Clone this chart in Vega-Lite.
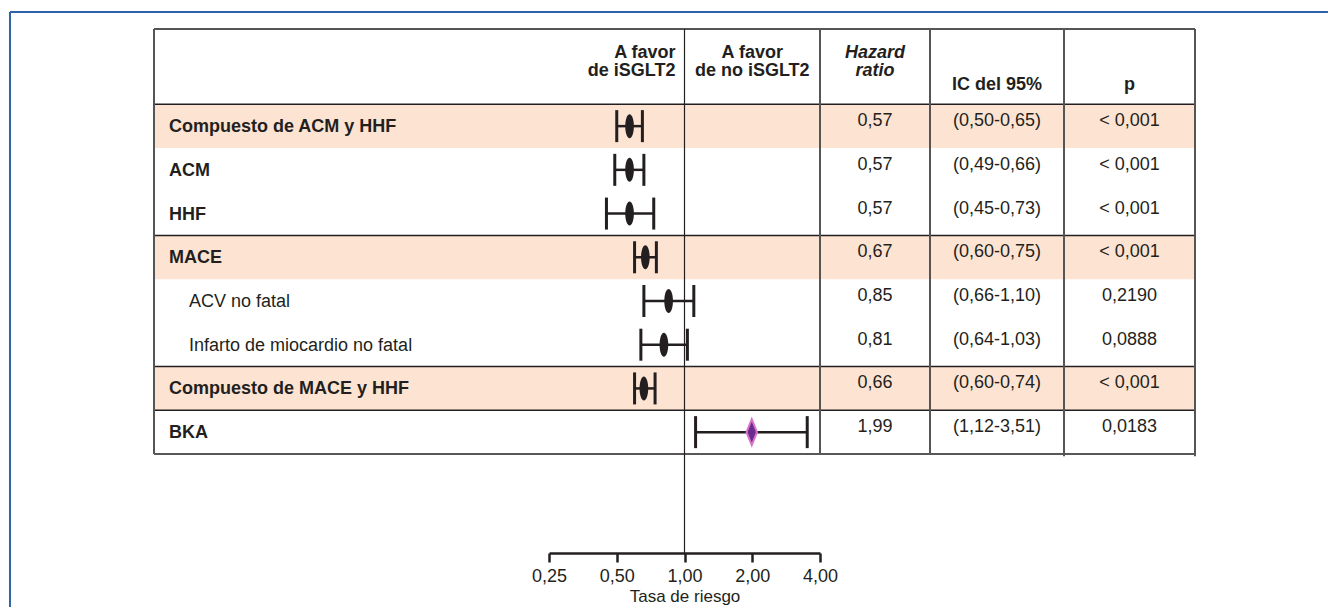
{
  "$schema": "https://vega.github.io/schema/vega-lite/v6.json",
  "padding": {"left": 8, "top": 10, "right": 0, "bottom": 0},
  "background": "white",
  "bounds": "flush",
  "spacing": 0,
  "config": {
    "view": {"stroke": null},
    "font": "Liberation Sans",
    "text": {"font": "Liberation Sans", "color": "#231f20", "fontSize": 18},
    "axis": {"grid": false}
  },
  "datasets": {
    "rows": [
      {"row": 1, "label": "Compuesto de ACM y HHF", "sub": false, "shaded": true, "adverse": false, "hr": 0.57, "lo": 0.50, "hi": 0.65, "hr_txt": "0,57", "ci": "(0,50-0,65)", "p": "< 0,001"},
      {"row": 2, "label": "ACM", "sub": false, "shaded": false, "adverse": false, "hr": 0.57, "lo": 0.49, "hi": 0.66, "hr_txt": "0,57", "ci": "(0,49-0,66)", "p": "< 0,001"},
      {"row": 3, "label": "HHF", "sub": false, "shaded": false, "adverse": false, "hr": 0.57, "lo": 0.45, "hi": 0.73, "hr_txt": "0,57", "ci": "(0,45-0,73)", "p": "< 0,001"},
      {"row": 4, "label": "MACE", "sub": false, "shaded": true, "adverse": false, "hr": 0.67, "lo": 0.60, "hi": 0.75, "hr_txt": "0,67", "ci": "(0,60-0,75)", "p": "< 0,001"},
      {"row": 5, "label": "ACV no fatal", "sub": true, "shaded": false, "adverse": false, "hr": 0.85, "lo": 0.66, "hi": 1.10, "hr_txt": "0,85", "ci": "(0,66-1,10)", "p": "0,2190"},
      {"row": 6, "label": "Infarto de miocardio no fatal", "sub": true, "shaded": false, "adverse": false, "hr": 0.81, "lo": 0.64, "hi": 1.03, "hr_txt": "0,81", "ci": "(0,64-1,03)", "p": "0,0888"},
      {"row": 7, "label": "Compuesto de MACE y HHF", "sub": false, "shaded": true, "adverse": false, "hr": 0.66, "lo": 0.60, "hi": 0.74, "hr_txt": "0,66", "ci": "(0,60-0,74)", "p": "< 0,001"},
      {"row": 8, "label": "BKA", "sub": false, "shaded": false, "adverse": true, "hr": 1.99, "lo": 1.12, "hi": 3.51, "hr_txt": "1,99", "ci": "(1,12-3,51)", "p": "0,0183"}
    ],
    "hlines": [{"y": 0.5}, {"y": 3.5}, {"y": 6.5}, {"y": 7.5}, {"y": 8.5}]
  },
  "hconcat": [
    {
      "width": 395,
      "height": 524,
      "layer": [
        {"data": {"name": "rows"}, "transform": [{"filter": "datum.shaded"}],
         "mark": {"type": "rule", "strokeWidth": 43.72, "color": "#fde4d2"},
         "encoding": {"y": {"field": "row", "type": "quantitative", "scale": {"domain": [-1.222, 10.765], "reverse": true, "nice": false, "zero": false}, "axis": null}}},
        {"data": {"name": "hlines"},
         "mark": {"type": "rule", "strokeWidth": 1.5, "color": "#231f20"},
         "encoding": {"y": {"field": "y", "type": "quantitative", "scale": {"domain": [-1.222, 10.765], "reverse": true, "nice": false, "zero": false}, "axis": null}}},
        {"data": {"values": [{}]},
         "mark": {"type": "rule", "strokeWidth": 2, "color": "#555555"},
         "encoding": {"y": {"datum": -1.222, "type": "quantitative", "scale": {"domain": [-1.222, 10.765], "reverse": true, "nice": false, "zero": false}, "axis": null}}},
        {"data": {"values": [{}]},
         "mark": {"type": "rule", "strokeWidth": 2, "color": "#555555"},
         "encoding": {
           "x": {"datum": 0, "type": "quantitative", "scale": {"domain": [0, 1], "nice": false, "zero": false}, "axis": null},
           "y": {"datum": -1.222, "type": "quantitative", "scale": {"domain": [-1.222, 10.765], "reverse": true, "nice": false, "zero": false}, "axis": null},
           "y2": {"datum": 8.5}}},
        {"data": {"values": [{}]},
         "mark": {"type": "rule", "strokeWidth": 2, "color": "#2f62a8"},
         "encoding": {
           "x": {"datum": -0.3646, "type": "quantitative", "scale": {"domain": [0, 1], "nice": false, "zero": false}, "axis": null},
           "x2": {"datum": 2.972},
           "y": {"datum": -1.611, "type": "quantitative", "scale": {"domain": [-1.222, 10.765], "reverse": true, "nice": false, "zero": false}, "axis": null}}},
        {"data": {"values": [{}]},
         "mark": {"type": "rule", "strokeWidth": 2, "color": "#2f62a8"},
         "encoding": {
           "x": {"datum": -0.3646, "type": "quantitative", "scale": {"domain": [0, 1], "nice": false, "zero": false}, "axis": null},
           "y": {"datum": -1.611, "type": "quantitative", "scale": {"domain": [-1.222, 10.765], "reverse": true, "nice": false, "zero": false}, "axis": null},
           "y2": {"datum": 12.0}}},
        {"data": {"name": "rows"}, "transform": [{"filter": "!datum.sub"}],
         "mark": {"type": "text", "align": "left", "baseline": "middle", "dx": 15, "dy": 1, "fontWeight": "bold", "fontSize": 18},
         "encoding": {
           "x": {"datum": 0, "type": "quantitative", "scale": {"domain": [0, 1], "nice": false, "zero": false}, "axis": null},
           "y": {"field": "row", "type": "quantitative", "scale": {"domain": [-1.222, 10.765], "reverse": true, "nice": false, "zero": false}, "axis": null},
           "text": {"field": "label"}}},
        {"data": {"name": "rows"}, "transform": [{"filter": "datum.sub"}],
         "mark": {"type": "text", "align": "left", "baseline": "middle", "dx": 35, "dy": 1, "fontSize": 18},
         "encoding": {
           "x": {"datum": 0, "type": "quantitative", "scale": {"domain": [0, 1], "nice": false, "zero": false}, "axis": null},
           "y": {"field": "row", "type": "quantitative", "scale": {"domain": [-1.222, 10.765], "reverse": true, "nice": false, "zero": false}, "axis": null},
           "text": {"field": "label"}}}
      ]
    },
    {
      "width": 271,
      "height": 524,
      "layer": [
        {"data": {"name": "rows"}, "transform": [{"filter": "datum.shaded"}],
         "mark": {"type": "rule", "strokeWidth": 43.72, "color": "#fde4d2"},
         "encoding": {"y": {"field": "row", "type": "quantitative", "scale": {"domain": [-1.222, 10.765], "reverse": true, "nice": false, "zero": false}, "axis": null}}},
        {"data": {"name": "hlines"},
         "mark": {"type": "rule", "strokeWidth": 1.5, "color": "#231f20"},
         "encoding": {"y": {"field": "y", "type": "quantitative", "scale": {"domain": [-1.222, 10.765], "reverse": true, "nice": false, "zero": false}, "axis": null}}},
        {"data": {"values": [{}]},
         "mark": {"type": "rule", "strokeWidth": 2, "color": "#555555"},
         "encoding": {"y": {"datum": -1.222, "type": "quantitative", "scale": {"domain": [-1.222, 10.765], "reverse": true, "nice": false, "zero": false}, "axis": null}}},
        {"data": {"name": "rows"},
         "mark": {"type": "rule", "strokeWidth": 2.5, "color": "#231f20"},
         "encoding": {
           "x": {"field": "lo", "type": "quantitative", "scale": {"type": "log", "domain": [0.25, 4], "nice": false},
                 "axis": {"values": [0.25, 0.5, 1, 2, 4], "labelExpr": "replace(format(datum.value, '.2f'), '.', ',')",
                          "title": "Tasa de riesgo", "titleFontWeight": "normal", "titleFontSize": 17, "titleColor": "#231f20", "titlePadding": 3, "titleFont": "Liberation Sans",
                          "labelFont": "Liberation Sans", "labelFontSize": 18, "labelColor": "#231f20", "labelPadding": 5, "labelFlush": false, "labelOverlap": false, "labelBound": false,
                          "domainColor": "#231f20", "domainWidth": 2.5, "tickColor": "#231f20", "tickWidth": 2.5, "tickSize": 9, "grid": false}},
           "x2": {"field": "hi"},
           "y": {"field": "row", "type": "quantitative", "scale": {"domain": [-1.222, 10.765], "reverse": true, "nice": false, "zero": false}, "axis": null}}},
        {"data": {"values": [{}]},
         "mark": {"type": "rule", "strokeWidth": 1.2, "color": "#231f20"},
         "encoding": {
           "x": {"datum": 1, "type": "quantitative", "scale": {"type": "log", "domain": [0.25, 4], "nice": false}},
           "y": {"datum": -1.222, "type": "quantitative", "scale": {"domain": [-1.222, 10.765], "reverse": true, "nice": false, "zero": false}, "axis": null},
           "y2": {"datum": 10.765}}},
        {"data": {"name": "rows"},
         "mark": {"type": "tick", "orient": "vertical", "size": 32, "thickness": 3, "color": "#231f20", "opacity": 1},
         "encoding": {
           "x": {"field": "lo", "type": "quantitative", "scale": {"type": "log", "domain": [0.25, 4], "nice": false}},
           "y": {"field": "row", "type": "quantitative", "scale": {"domain": [-1.222, 10.765], "reverse": true, "nice": false, "zero": false}, "axis": null}}},
        {"data": {"name": "rows"},
         "mark": {"type": "tick", "orient": "vertical", "size": 32, "thickness": 3, "color": "#231f20", "opacity": 1},
         "encoding": {
           "x": {"field": "hi", "type": "quantitative", "scale": {"type": "log", "domain": [0.25, 4], "nice": false}},
           "y": {"field": "row", "type": "quantitative", "scale": {"domain": [-1.222, 10.765], "reverse": true, "nice": false, "zero": false}, "axis": null}}},
        {"data": {"name": "rows"}, "transform": [{"filter": "!datum.adverse"}],
         "mark": {"type": "point", "filled": true, "opacity": 1, "color": "#231f20", "size": 576,
                  "shape": "M0,-1C0.2,-1 0.36,-0.552 0.36,0C0.36,0.552 0.2,1 0,1C-0.2,1 -0.36,0.552 -0.36,0C-0.36,-0.552 -0.2,-1 0,-1Z"},
         "encoding": {
           "x": {"field": "hr", "type": "quantitative", "scale": {"type": "log", "domain": [0.25, 4], "nice": false}},
           "y": {"field": "row", "type": "quantitative", "scale": {"domain": [-1.222, 10.765], "reverse": true, "nice": false, "zero": false}, "axis": null}}},
        {"data": {"name": "rows"}, "transform": [{"filter": "datum.adverse"}],
         "mark": {"type": "point", "filled": true, "opacity": 1, "fill": "#6b2b8f", "stroke": "#d673c9", "strokeWidth": 2, "size": 676,
                  "shape": "M0,-1L0.4,0L0,1L-0.4,0Z"},
         "encoding": {
           "x": {"field": "hr", "type": "quantitative", "scale": {"type": "log", "domain": [0.25, 4], "nice": false}},
           "y": {"field": "row", "type": "quantitative", "scale": {"domain": [-1.222, 10.765], "reverse": true, "nice": false, "zero": false}, "axis": null}}},
        {"data": {"values": [{}]},
         "mark": {"type": "text", "text": ["A favor", "de iSGLT2"], "align": "right", "baseline": "alphabetic", "dx": -9, "lineHeight": 18.5, "fontWeight": "bold", "fontSize": 18},
         "encoding": {
           "x": {"datum": 1, "type": "quantitative", "scale": {"type": "log", "domain": [0.25, 4], "nice": false}},
           "y": {"datum": -0.56, "type": "quantitative", "scale": {"domain": [-1.222, 10.765], "reverse": true, "nice": false, "zero": false}, "axis": null}}},
        {"data": {"values": [{}]},
         "mark": {"type": "text", "text": ["A favor", "de no iSGLT2"], "align": "center", "baseline": "alphabetic", "lineHeight": 18.5, "fontWeight": "bold", "fontSize": 18},
         "encoding": {
           "x": {"datum": 2, "type": "quantitative", "scale": {"type": "log", "domain": [0.25, 4], "nice": false}},
           "y": {"datum": -0.56, "type": "quantitative", "scale": {"domain": [-1.222, 10.765], "reverse": true, "nice": false, "zero": false}, "axis": null}}}
      ]
    },
    {
      "width": 110,
      "height": 524,
      "layer": [
        {"data": {"name": "rows"}, "transform": [{"filter": "datum.shaded"}],
         "mark": {"type": "rule", "strokeWidth": 43.72, "color": "#fde4d2"},
         "encoding": {"y": {"field": "row", "type": "quantitative", "scale": {"domain": [-1.222, 10.765], "reverse": true, "nice": false, "zero": false}, "axis": null}}},
        {"data": {"name": "hlines"},
         "mark": {"type": "rule", "strokeWidth": 1.5, "color": "#231f20"},
         "encoding": {"y": {"field": "y", "type": "quantitative", "scale": {"domain": [-1.222, 10.765], "reverse": true, "nice": false, "zero": false}, "axis": null}}},
        {"data": {"values": [{}]},
         "mark": {"type": "rule", "strokeWidth": 2, "color": "#555555"},
         "encoding": {"y": {"datum": -1.222, "type": "quantitative", "scale": {"domain": [-1.222, 10.765], "reverse": true, "nice": false, "zero": false}, "axis": null}}},
        {"data": {"values": [{}]},
         "mark": {"type": "rule", "strokeWidth": 2, "color": "#555555"},
         "encoding": {
           "x": {"datum": 0, "type": "quantitative", "scale": {"domain": [0, 1], "nice": false, "zero": false}, "axis": null},
           "y": {"datum": -1.222, "type": "quantitative", "scale": {"domain": [-1.222, 10.765], "reverse": true, "nice": false, "zero": false}, "axis": null},
           "y2": {"datum": 8.5}}},
        {"data": {"values": [{}]},
         "mark": {"type": "text", "text": ["Hazard", "ratio"], "align": "center", "baseline": "alphabetic", "lineHeight": 18.5, "fontWeight": "bold", "fontStyle": "italic", "fontSize": 18},
         "encoding": {
           "x": {"datum": 0.5, "type": "quantitative", "scale": {"domain": [0, 1], "nice": false, "zero": false}, "axis": null},
           "y": {"datum": -0.56, "type": "quantitative", "scale": {"domain": [-1.222, 10.765], "reverse": true, "nice": false, "zero": false}, "axis": null}}},
        {"data": {"name": "rows"},
         "mark": {"type": "text", "align": "center", "baseline": "middle", "dy": -5, "fontSize": 18},
         "encoding": {
           "x": {"datum": 0.5, "type": "quantitative", "scale": {"domain": [0, 1], "nice": false, "zero": false}, "axis": null},
           "y": {"field": "row", "type": "quantitative", "scale": {"domain": [-1.222, 10.765], "reverse": true, "nice": false, "zero": false}, "axis": null},
           "text": {"field": "hr_txt"}}}
      ]
    },
    {
      "width": 134,
      "height": 524,
      "layer": [
        {"data": {"name": "rows"}, "transform": [{"filter": "datum.shaded"}],
         "mark": {"type": "rule", "strokeWidth": 43.72, "color": "#fde4d2"},
         "encoding": {"y": {"field": "row", "type": "quantitative", "scale": {"domain": [-1.222, 10.765], "reverse": true, "nice": false, "zero": false}, "axis": null}}},
        {"data": {"name": "hlines"},
         "mark": {"type": "rule", "strokeWidth": 1.5, "color": "#231f20"},
         "encoding": {"y": {"field": "y", "type": "quantitative", "scale": {"domain": [-1.222, 10.765], "reverse": true, "nice": false, "zero": false}, "axis": null}}},
        {"data": {"values": [{}]},
         "mark": {"type": "rule", "strokeWidth": 2, "color": "#555555"},
         "encoding": {"y": {"datum": -1.222, "type": "quantitative", "scale": {"domain": [-1.222, 10.765], "reverse": true, "nice": false, "zero": false}, "axis": null}}},
        {"data": {"values": [{}]},
         "mark": {"type": "rule", "strokeWidth": 2, "color": "#555555"},
         "encoding": {
           "x": {"datum": 0, "type": "quantitative", "scale": {"domain": [0, 1], "nice": false, "zero": false}, "axis": null},
           "y": {"datum": -1.222, "type": "quantitative", "scale": {"domain": [-1.222, 10.765], "reverse": true, "nice": false, "zero": false}, "axis": null},
           "y2": {"datum": 8.5}}},
        {"data": {"values": [{}]},
         "mark": {"type": "text", "text": "IC del 95%", "align": "center", "baseline": "alphabetic", "fontWeight": "bold", "fontSize": 18},
         "encoding": {
           "x": {"datum": 0.5, "type": "quantitative", "scale": {"domain": [0, 1], "nice": false, "zero": false}, "axis": null},
           "y": {"datum": 0.18, "type": "quantitative", "scale": {"domain": [-1.222, 10.765], "reverse": true, "nice": false, "zero": false}, "axis": null}}},
        {"data": {"name": "rows"},
         "mark": {"type": "text", "align": "center", "baseline": "middle", "dy": -5, "fontSize": 18},
         "encoding": {
           "x": {"datum": 0.5, "type": "quantitative", "scale": {"domain": [0, 1], "nice": false, "zero": false}, "axis": null},
           "y": {"field": "row", "type": "quantitative", "scale": {"domain": [-1.222, 10.765], "reverse": true, "nice": false, "zero": false}, "axis": null},
           "text": {"field": "ci"}}}
      ]
    },
    {
      "width": 131,
      "height": 524,
      "layer": [
        {"data": {"name": "rows"}, "transform": [{"filter": "datum.shaded"}],
         "mark": {"type": "rule", "strokeWidth": 43.72, "color": "#fde4d2"},
         "encoding": {"y": {"field": "row", "type": "quantitative", "scale": {"domain": [-1.222, 10.765], "reverse": true, "nice": false, "zero": false}, "axis": null}}},
        {"data": {"name": "hlines"},
         "mark": {"type": "rule", "strokeWidth": 1.5, "color": "#231f20"},
         "encoding": {"y": {"field": "y", "type": "quantitative", "scale": {"domain": [-1.222, 10.765], "reverse": true, "nice": false, "zero": false}, "axis": null}}},
        {"data": {"values": [{}]},
         "mark": {"type": "rule", "strokeWidth": 2, "color": "#555555"},
         "encoding": {"y": {"datum": -1.222, "type": "quantitative", "scale": {"domain": [-1.222, 10.765], "reverse": true, "nice": false, "zero": false}, "axis": null}}},
        {"data": {"values": [{"edge": 0}, {"edge": 1}]},
         "mark": {"type": "rule", "strokeWidth": 2, "color": "#555555"},
         "encoding": {
           "x": {"field": "edge", "type": "quantitative", "scale": {"domain": [0, 1], "nice": false, "zero": false}, "axis": null},
           "y": {"datum": -1.222, "type": "quantitative", "scale": {"domain": [-1.222, 10.765], "reverse": true, "nice": false, "zero": false}, "axis": null},
           "y2": {"datum": 8.55}}},
        {"data": {"values": [{}]},
         "mark": {"type": "text", "text": "p", "align": "center", "baseline": "alphabetic", "fontWeight": "bold", "fontSize": 18},
         "encoding": {
           "x": {"datum": 0.5, "type": "quantitative", "scale": {"domain": [0, 1], "nice": false, "zero": false}, "axis": null},
           "y": {"datum": 0.18, "type": "quantitative", "scale": {"domain": [-1.222, 10.765], "reverse": true, "nice": false, "zero": false}, "axis": null}}},
        {"data": {"name": "rows"},
         "mark": {"type": "text", "align": "center", "baseline": "middle", "dy": -5, "fontSize": 18},
         "encoding": {
           "x": {"datum": 0.5, "type": "quantitative", "scale": {"domain": [0, 1], "nice": false, "zero": false}, "axis": null},
           "y": {"field": "row", "type": "quantitative", "scale": {"domain": [-1.222, 10.765], "reverse": true, "nice": false, "zero": false}, "axis": null},
           "text": {"field": "p"}}}
      ]
    }
  ]
}
